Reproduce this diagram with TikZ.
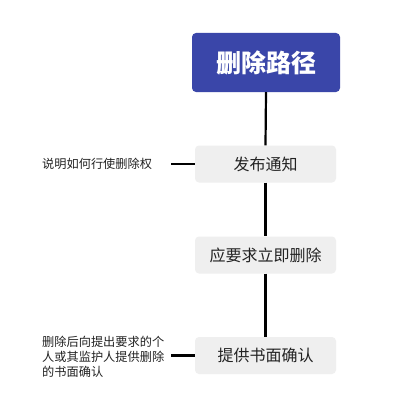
\documentclass[tikz,border=0pt]{standalone}
\usepackage{fontspec}
\setmainfont{Noto Sans CJK SC}
\definecolor{titleblue}{HTML}{3A46A9}
\definecolor{boxgray}{HTML}{EFEFEF}
\definecolor{txt}{HTML}{222222}
\begin{document}
\begin{tikzpicture}[x=1pt,y=-1pt,
  titlebox/.style={fill=titleblue,rounded corners=4pt,minimum width=148pt,minimum height=59pt,inner sep=0pt,text=white,font=\fontsize{25}{29}\selectfont\bfseries},
  graybox/.style={fill=boxgray,rounded corners=4pt,minimum width=141pt,minimum height=37pt,inner sep=0pt,text=txt,font=\fontsize{16}{19}\selectfont},
  note/.style={anchor=west,align=left,inner sep=0pt,text=txt,font=\fontsize{12.2}{15}\selectfont},
  link/.style={line width=2.2pt,black}]
\useasboundingbox (0,0) rectangle (400,420);
\fill[white] (0,0) rectangle (400,420);
\node[titlebox] (t) at (266,62.5) {删除路径};
\node[graybox] (b1) at (265.5,164) {发布通知};
\node[graybox] (b2) at (265.5,255) {应要求立即删除};
\node[graybox] (b3) at (265.5,355.5) {提供书面确认};
\node[note] (n1) at (42,164) {说明如何行使删除权};
\node[note] (n3) at (42,357) {删除后向提出要求的个\\人或其监护人提供删除\\的书面确认};
\coordinate (c1) at (171,164);
\coordinate (c3) at (171,355.5);
\draw[link] (t.south) -- (b1.north);
\draw[link] (b1.south) -- (b2.north);
\draw[link] (b2.south) -- (b3.north);
\draw[link] (c1) -- (b1.west);
\draw[link] (c3) -- (b3.west);
\end{tikzpicture}
\end{document}
